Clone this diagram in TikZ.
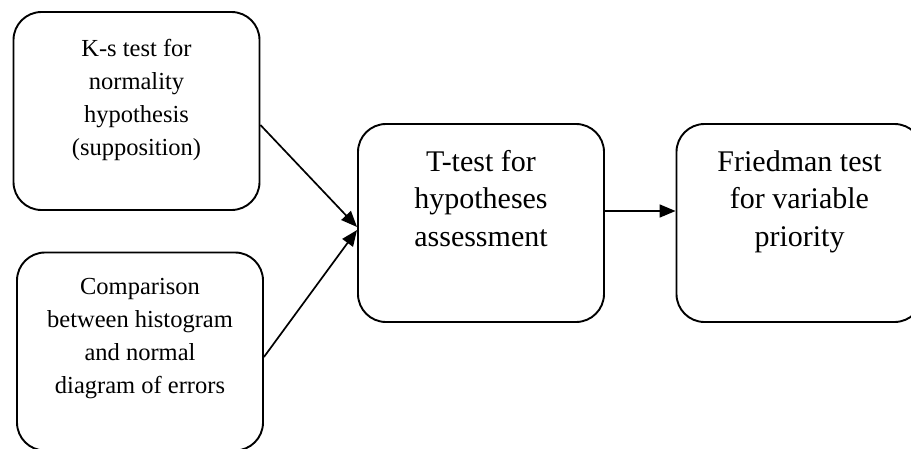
\documentclass[tikz,border=0pt]{standalone}
\usepackage{fontspec}
\setmainfont{Liberation Serif}
\usetikzlibrary{positioning,arrows.meta}

\begin{document}
\begin{tikzpicture}[
x=1pt, y=-1pt,
box/.style={
  draw,
  rounded corners=28pt,
  line width=1.9pt,
  minimum width=246pt,
  minimum height=198pt
  },
small/.style={
  align=center,
  inner sep=0pt,
  font=\fontsize{24.5}{33}\selectfont
  },
big/.style={
  align=center,
  inner sep=0pt,
  font=\fontsize{30}{37.5}\selectfont
  },
flow/.style={
  ->,
  line width=1.7pt
  },
>={Triangle[length=16pt,width=13pt]}
]
\useasboundingbox (0,0) rectangle (911,448);

\node[box] (ks) at (136.5,111) {};
\node[box] (comp) at (140,351.5) {};
\node[box] (ttest) at (481,223) {};
\node[box] (fried) at (799.5,223) {};

\node[small, below=28pt of ks.north] (kstext)
  {K-s test for\\normality\\hypothesis\\(supposition)};
\node[small, below=27pt of comp.north] (comptext)
  {Comparison\\between histogram\\and normal\\diagram of errors};
\node[big, below=27pt of ttest.north] (ttesttext)
  {T-test for\\hypotheses\\assessment};
\node[big, below=27pt of fried.north] (friedtext)
  {Friedman test\\for variable\\priority};

\draw[flow] ([yshift=-14pt]ks.east) -- ([yshift=-4pt]ttest.west);
\draw[flow] ([yshift=-5.5pt]comp.east) -- ([yshift=-7pt]ttest.west);
\draw[flow] ([yshift=12pt]ttest.east) -- ([yshift=12pt]fried.west);

\end{tikzpicture}
\end{document}
